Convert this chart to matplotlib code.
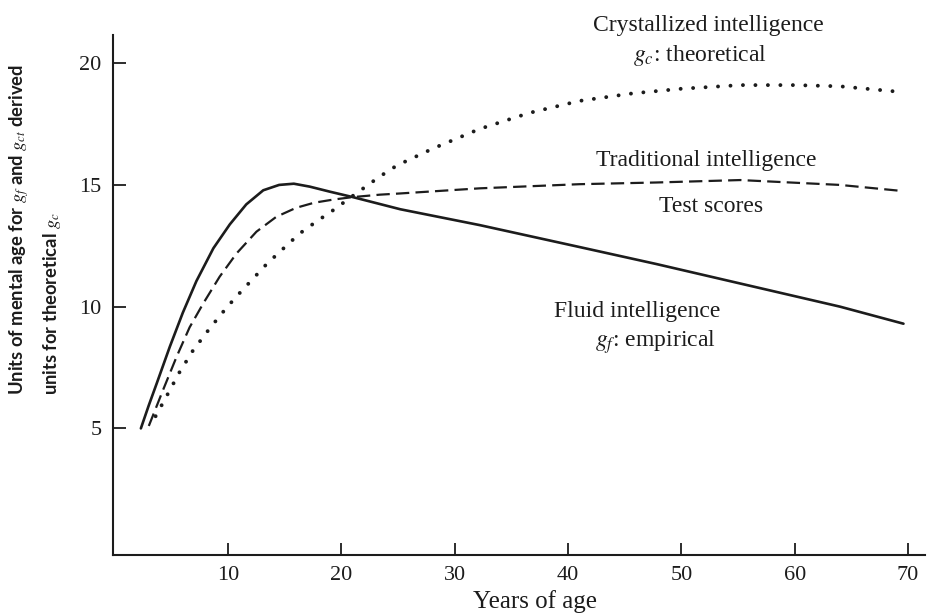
import numpy as np
import matplotlib
matplotlib.use("Agg")
import matplotlib.pyplot as plt

# Values (years of age -> units)
fluid_x = [2.3, 3.0, 3.7, 4.85, 6.0, 7.2, 8.7, 10.15, 11.6, 13.1, 14.5, 15.8, 17.2,
           19.0, 21.0, 25.2, 32.2, 41.0, 47.8, 55.2, 64.0, 69.6]
fluid_y = [5.0, 5.95, 6.85, 8.35, 9.75, 11.05, 12.4, 13.38, 14.2, 14.78, 15.0, 15.05, 14.93,
           14.72, 14.5, 14.0, 13.35, 12.45, 11.75, 10.95, 10.0, 9.3]

trad_x = [3.0, 4.25, 5.45, 6.6, 7.8, 9.25, 10.75, 12.5, 14.25, 16.0, 17.6, 19.3, 21.0,
          23.4, 25.2, 32.2, 41.0, 47.8, 55.2, 64.0, 69.5]
trad_y = [5.1, 6.57, 7.94, 9.15, 10.13, 11.23, 12.19, 13.08, 13.69, 14.06, 14.27, 14.4, 14.5,
          14.6, 14.65, 14.86, 15.03, 15.1, 15.2, 15.0, 14.75]

cryst_x = [3.6, 4.6, 5.7, 6.9, 8.2, 9.4, 10.6, 12.0, 13.4, 14.9, 16.3, 17.8, 19.3, 20.7,
           22.2, 23.4, 24.9, 28.1, 32.2, 36.6, 41.0, 45.7, 50.0, 55.2, 60.0, 64.0, 69.1]
cryst_y = [5.5, 6.35, 7.3, 8.2, 9.0, 9.7, 10.35, 11.05, 11.75, 12.4, 13.0, 13.5, 13.97, 14.45,
           14.95, 15.35, 15.8, 16.5, 17.3, 17.96, 18.45, 18.76, 18.95, 19.1, 19.1, 19.05, 18.83]

x_ticks = [10, 20, 30, 40, 50, 60, 70]
y_ticks = [5, 10, 15, 20]

ink = "#1c1c1c"
plt.rcParams['font.family'] = ['Liberation Serif', 'DejaVu Serif']
plt.rcParams['mathtext.fontset'] = 'stix'

fig = plt.figure(figsize=(9.32, 6.13), dpi=100)
ax = fig.add_axes([0.121, 0.0946, 0.8715, 0.8484])

ax.plot(fluid_x, fluid_y, color=ink, lw=1.9, solid_capstyle='round', solid_joinstyle='round')
ax.plot(trad_x, trad_y, color=ink, lw=1.6, linestyle=(0, (6.0, 2.8)))
ax.plot(cryst_x, cryst_y, color=ink, lw=2.8, linestyle=(0, (0.01, 3.2)),
        dash_capstyle='round')

ax.set_xlim(-0.18, 71.5)
ax.set_ylim(-0.2, 21.16)
ax.set_xticks(x_ticks)
ax.set_yticks(y_ticks)
ax.tick_params(direction='in', length=9, width=1.3, colors=ink,
               labelsize=16, pad=8)
for s in ['top', 'right']:
    ax.spines[s].set_visible(False)
for s in ['left', 'bottom']:
    ax.spines[s].set_linewidth(1.5)
    ax.spines[s].set_color(ink)

ax.set_xlabel("Years of age", fontsize=18, color=ink)
ax.xaxis.set_label_coords(0.52, -0.068)

fig.text(0.0375, 0.356,
         "Units of mental age for $g_f$ and $g_{ct}$ derived\nunits for theoretical $g_c$",
         rotation=90, ha='center', va='bottom', multialignment='left',
         fontsize=13.2, color=ink, family=['Lato', 'DejaVu Sans'],
         weight='bold', linespacing=1.6)

tk = dict(fontsize=17, color=ink, clip_on=False)
ax.text(52.4, 21.55, "Crystallized intelligence", ha='center', va='center', **tk)
ax.text(51.6, 20.3, "$g_c$: theoretical", ha='center', va='center', **tk)
ax.text(52.2, 16.0, "Traditional intelligence", ha='center', va='center', **tk)
ax.text(52.6, 14.1, "Test scores", ha='center', va='center', **tk)
ax.text(38.8, 9.8, "Fluid intelligence", ha='left', va='center', **tk)
ax.text(42.4, 8.55, "$g_f$: empirical", ha='left', va='center', **tk)

fig.savefig("out.png", dpi=100, facecolor='white')
